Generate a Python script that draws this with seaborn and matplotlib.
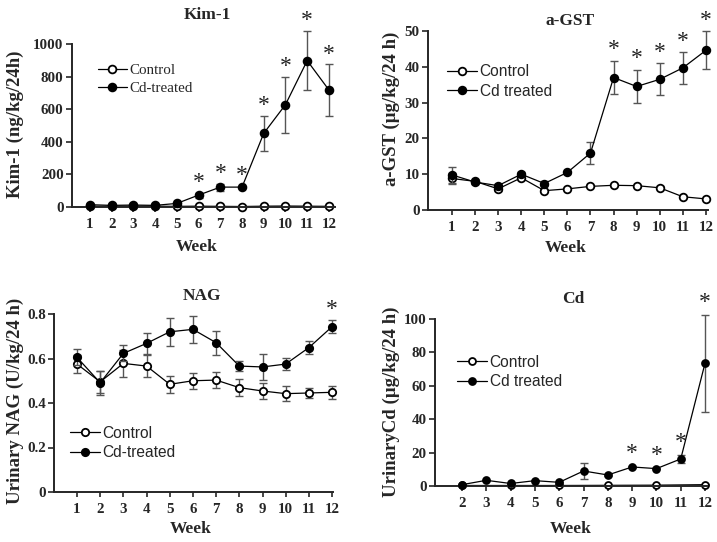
import numpy as np
import pandas as pd
import matplotlib
matplotlib.use("Agg")
import matplotlib.pyplot as plt
import seaborn as sns

# ---------------- data ----------------
weeks = [1, 2, 3, 4, 5, 6, 7, 8, 9, 10, 11, 12]

kim_ctrl = [5, 4, 5, 5, 4, 5, 4, 3, 5, 6, 5, 4]
kim_ctrl_err = [2, 2, 2, 2, 2, 2, 2, 2, 2, 2, 2, 2]
kim_cd = [14, 10, 12, 10, 22, 73, 122, 122, 452, 628, 898, 718]
kim_cd_err = [4, 3, 3, 3, 5, 15, 22, 8, 106, 172, 182, 157]
kim_sig = [6, 7, 8, 9, 10, 11, 12]

gst_ctrl = [8.8, 8.0, 5.9, 9.0, 5.4, 5.9, 6.6, 6.9, 6.8, 6.2, 3.7, 3.1]
gst_ctrl_err = [1.5, 0.5, 0.5, 0.5, 0.5, 0.3, 0.3, 0.3, 0.3, 0.4, 0.3, 0.3]
gst_cd = [9.8, 7.8, 6.8, 10.0, 7.4, 10.5, 15.9, 37.0, 34.5, 36.5, 39.7, 44.6]
gst_cd_err = [2.3, 0.5, 0.5, 0.5, 0.8, 0.4, 3.0, 4.7, 4.6, 4.5, 4.4, 5.3]
gst_sig = [8, 9, 10, 11, 12]

nag_ctrl = [0.575, 0.495, 0.578, 0.566, 0.484, 0.500, 0.503, 0.469, 0.454, 0.442, 0.445, 0.448]
nag_ctrl_err = [0.039, 0.05, 0.062, 0.049, 0.037, 0.036, 0.036, 0.038, 0.036, 0.033, 0.022, 0.03]
nag_cd = [0.605, 0.491, 0.623, 0.668, 0.720, 0.731, 0.671, 0.566, 0.562, 0.575, 0.649, 0.743]
nag_cd_err = [0.036, 0.055, 0.036, 0.048, 0.064, 0.060, 0.054, 0.024, 0.058, 0.026, 0.028, 0.029]
nag_sig = [12]

cd_weeks = [2, 3, 4, 5, 6, 7, 8, 9, 10, 11, 12]
cd_cd = [0.8, 3.4, 1.5, 3.2, 2.2, 9.0, 6.6, 11.4, 10.4, 16.2, 73.6]
cd_cd_err = [0.4, 0.4, 0.4, 0.4, 0.4, 4.8, 0.4, 0.5, 0.5, 2.4, 29.0]
cd_ctrl_weeks = [2, 4, 6, 8, 10, 12]
cd_ctrl = [0.3, 0.3, 0.3, 0.4, 0.5, 0.8]
cd_ctrl_err = [0.1, 0.1, 0.1, 0.1, 0.1, 0.1]
cd_sig = [9, 10, 11, 12]

# ---------------- style ----------------
sns.set_style("ticks")
SERIF = ["Liberation Serif", "DejaVu Serif"]
SANS = ["Liberation Sans", "DejaVu Sans"]
plt.rcParams["font.family"] = SERIF
plt.rcParams["mathtext.default"] = "regular"

W, H = 717, 542
fig = plt.figure(figsize=(W / 100, H / 100), dpi=100)

TICK_FS = 10.8
YLAB_FS = 13.5
XLAB_FS = 12.5
TITLE_FS = 12.5
ERR_C = "#555555"


def make_axes(box):
    l, t, r, b = box
    return fig.add_axes([l / W, 1 - b / H, (r - l) / W, (b - t) / H])


def to_axfrac(box, x, y):
    l, t, r, b = box
    return (x - l) / (r - l), (b - y) / (b - t)


def panel(box, xlim, xticks, ylim, yticks, yticklabels, title, title_xy,
          ylabel, ylabel_xy, xlabel_xy, series, sig, sig_top, leg_xy,
          leg_font, leg_fs, leg_labels, ms, ast_off):
    ax = make_axes(box)
    for s in series:
        x, y, e, filled, z = s
        ax.errorbar(x, y, yerr=e, fmt="none", ecolor=ERR_C, elinewidth=1.0,
                    capsize=3.2, capthick=1.0, clip_on=False, zorder=z - 0.5)
        df = pd.DataFrame({"week": x, "val": y})
        sns.lineplot(data=df, x="week", y="val", ax=ax, color="black",
                     linewidth=0.9, marker="o", markersize=ms,
                     markerfacecolor="black" if filled else "white",
                     markeredgecolor="black", markeredgewidth=1.3,
                     clip_on=False, zorder=z, estimator=None, errorbar=None,
                     label=leg_labels[1] if filled else leg_labels[0])
    ax.set_xlim(*xlim)
    ax.set_ylim(*ylim)
    ax.set_xticks(xticks)
    ax.set_xticklabels([str(v) for v in xticks], fontsize=TICK_FS, fontweight="bold")
    ax.set_yticks(yticks)
    ax.set_yticklabels(yticklabels, fontsize=TICK_FS, fontweight="bold")
    ax.tick_params(axis="x", direction="out", length=3.5, width=1.2, pad=4.5)
    ax.tick_params(axis="y", direction="out", length=4, width=1.2, pad=2)
    sns.despine(ax=ax)
    for sp in ("left", "bottom"):
        ax.spines[sp].set_linewidth(1.4)
    # labels
    ax.set_xlabel("Week", fontsize=XLAB_FS, fontweight="bold", va="center")
    ax.xaxis.set_label_coords(*to_axfrac(box, *xlabel_xy))
    ax.set_ylabel(ylabel, fontsize=YLAB_FS, fontweight="bold", va="center", ha="center")
    ax.yaxis.set_label_coords(*to_axfrac(box, *ylabel_xy))
    tx, ty = to_axfrac(box, *title_xy)
    ax.set_title(title, fontsize=TITLE_FS, fontweight="bold", x=tx, y=ty, va="center", pad=0)
    # significance
    for w, top in zip(sig, sig_top):
        ax.annotate("*", xy=(w, top), xytext=(0, ast_off), textcoords="offset points",
                    ha="center", va="baseline", fontsize=17, color="#222222",
                    annotation_clip=False)
    # legend
    handles, labels = ax.get_legend_handles_labels()
    lx, ly = leg_xy
    ax.legend(handles, labels, loc="center left", bbox_to_anchor=(lx / W, 1 - ly / H),
              bbox_transform=fig.transFigure, frameon=False, borderpad=0,
              borderaxespad=0, handlelength=1.9, handletextpad=0.2,
              labelspacing=0.3, prop={"family": leg_font, "size": leg_fs})
    return ax


def tops(sig, xs, ys, es):
    d = {x: y + e for x, y, e in zip(xs, ys, es)}
    return [d[w] for w in sig]


# Kim-1
panel((72, 44, 335, 207), (0.172, 12.28), weeks, (0, 1000), [0, 200, 400, 600, 800, 1000],
      ["0", "200", "400", "600", "800", "1000"], "Kim-1", (207, 15),
      "Kim-1 (ng/kg/24h)", (15, 124), (197, 247),
      [(weeks, kim_ctrl, kim_ctrl_err, False, 2), (weeks, kim_cd, kim_cd_err, True, 3)],
      kim_sig, tops(kim_sig, weeks, kim_cd, kim_cd_err), (98, 79), SERIF, 10.8,
      ["Control", "Cd-treated"], 5.6, 3.5)

# a-GST
panel((428, 31, 708, 210), (-0.039, 12.09), weeks, (0, 50), [0, 10, 20, 30, 40, 50],
      ["0", "10", "20", "30", "40", "50"], "a-GST", (570, 21),
      "a-GST (µg/kg/24 h)", (391, 109), (566, 248),
      [(weeks, gst_ctrl, gst_ctrl_err, False, 2), (weeks, gst_cd, gst_cd_err, True, 3)],
      gst_sig, tops(gst_sig, weeks, gst_cd, gst_cd_err), (447, 81.5), SANS, 11.2,
      ["Control", "Cd treated"], 5.5, 4)

# NAG
panel((54, 314, 333, 492), (0.008, 12.04), weeks, (0, 0.8), [0, 0.2, 0.4, 0.6, 0.8],
      ["0", "0.2", "0.4", "0.6", "0.8"], "NAG", (202, 296),
      "Urinary NAG (U/kg/24 h)", (15, 401), (191, 529),
      [(weeks, nag_ctrl, nag_ctrl_err, False, 2), (weeks, nag_cd, nag_cd_err, True, 3)],
      nag_sig, tops(nag_sig, weeks, nag_cd, nag_cd_err), (70, 443), SANS, 11.2,
      ["Control", "Cd-treated"], 5.3, 4)

# Cd
panel((435, 319, 707, 486), (0.889, 12.08), cd_weeks, (0, 100), [0, 20, 40, 60, 80, 100],
      ["0", "20", "40", "60", "80", "100"], "Cd", (573, 299),
      "UrinaryCd (µg/kg/24 h)", (391, 401.5), (571, 529),
      [(cd_ctrl_weeks, cd_ctrl, cd_ctrl_err, False, 2), (cd_weeks, cd_cd, cd_cd_err, True, 3)],
      cd_sig, tops(cd_sig, cd_weeks, cd_cd, cd_cd_err), (457, 372), SANS, 11.2,
      ["Control", "Cd treated"], 5.0, 5)

fig.savefig("out.png", dpi=100)
